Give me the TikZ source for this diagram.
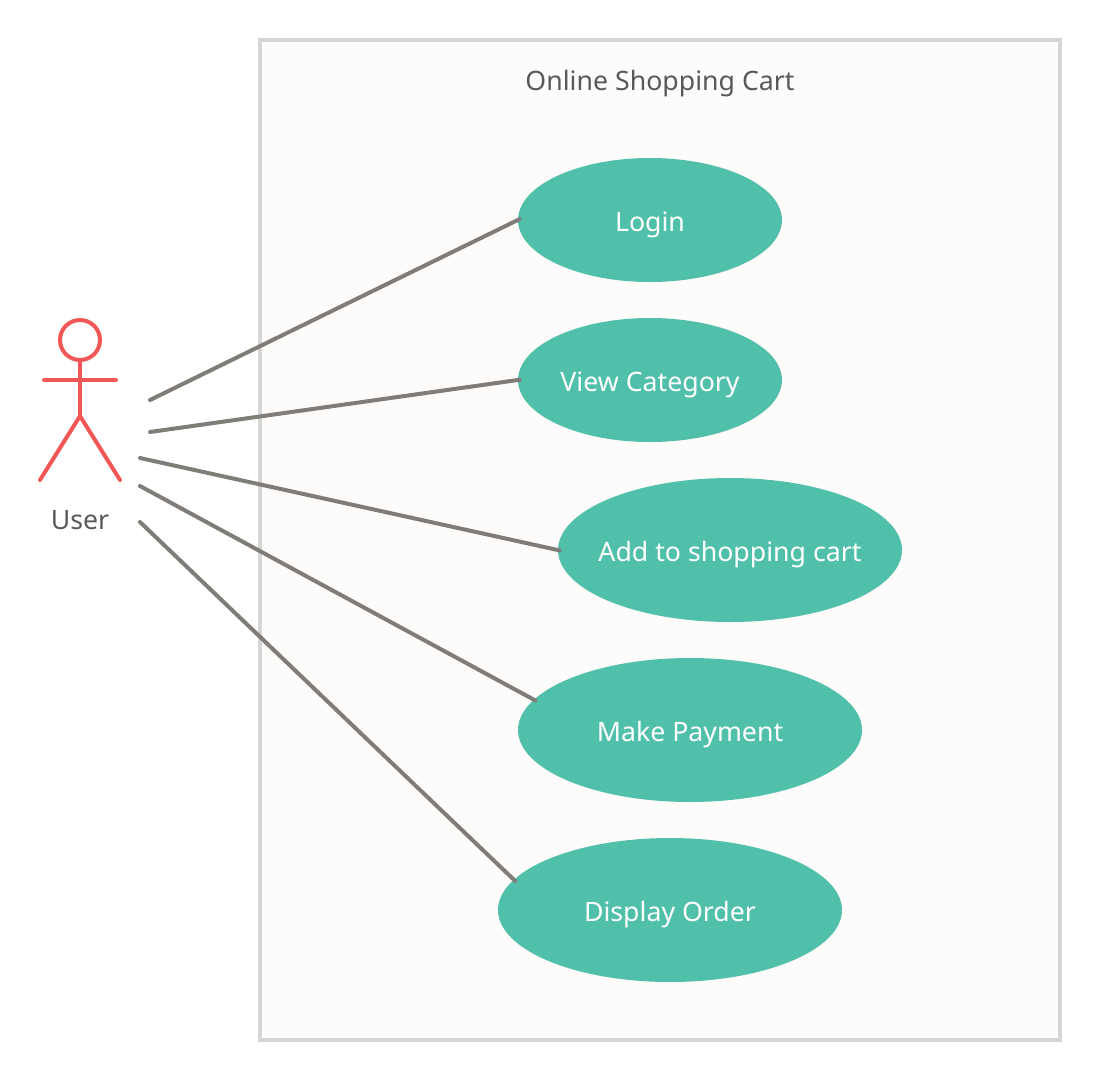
\documentclass[tikz,border=0pt]{standalone}
\usepackage{fontspec}
\setmainfont{Noto Sans}
\usetikzlibrary{shapes.geometric}
\definecolor{usecase}{HTML}{51C0AA}
\definecolor{actor}{HTML}{F25757}
\definecolor{wire}{HTML}{807D79}
\definecolor{sysfill}{HTML}{FDFCFB}
\definecolor{sysline}{HTML}{D6D6D6}
\definecolor{inktext}{HTML}{595959}
\tikzset{
	every usecase/.style={ellipse, fill=usecase, text=white, inner ysep=0pt, inner xsep=-12pt, text height=22pt, text depth=0pt, font=\fontsize{26.7}{32}\selectfont},
	every label text/.style={text=inktext, text height=22pt, text depth=0pt, font=\fontsize{26.7}{32}\selectfont},
	every link/.style={draw=wire, line width=4pt, line cap=round, shorten >=-2pt},
	every limb/.style={draw=actor, line width=4pt, line cap=round},
}
\begin{document}
\begin{tikzpicture}[x=1pt, y=-1pt]
	\useasboundingbox (0,0) rectangle (1100,1080);
	
	\node [draw=sysline, fill=sysfill, line width=4pt, minimum width=800pt, minimum height=1000pt, inner sep=0pt] (system) at (660,540) {};
	\node [every label text/.try] (title) at (660,79) {Online Shopping Cart};
	
	\foreach \name/\cx/\cy/\w/\h/\l in {
		login/650/220/264/124/Login,
		category/650/380/264/124/View Category,
		cart/730/550/344/144/Add to shopping cart,
		payment/690/730/344/144/Make Payment,
		order/670/910/344/144/Display Order}
	\node [every usecase/.try, minimum width=\w pt, minimum height=\h pt] (\name) at (\cx,\cy) {\l};
	
	% actor
	\node [circle, draw=actor, line width=4pt, minimum size=40pt, inner sep=0pt] (head) at (80,340) {};
	\coordinate (hip) at (80,416);
	\coordinate (armL) at (44,380);
	\coordinate (armR) at (116,380);
	\coordinate (footL) at (40,480);
	\coordinate (footR) at (120,480);
	\draw [every limb/.try] (head) -- (hip);
	\draw [every limb/.try] (armL) -- (armR);
	\draw [every limb/.try] (footL) -- (hip) -- (footR);
	\node [every label text/.try] (user) at (80,518) {User};
	
	% free ends beside the actor
	\coordinate (from-login) at (150,400);
	\coordinate (from-category) at (150,432);
	\coordinate (from-cart) at (140,458);
	\coordinate (from-payment) at (140,486);
	\coordinate (from-order) at (140,522);
	
	\draw [every link/.try] (from-login) -- (login.west);
	\draw [every link/.try] (from-category) -- (category.west);
	\draw [every link/.try] (from-cart) -- (cart.west);
	\draw [every link/.try] (from-payment) -- (payment.169);
	\draw [every link/.try] (from-order) -- (order.169);
	
\end{tikzpicture}
\end{document}
